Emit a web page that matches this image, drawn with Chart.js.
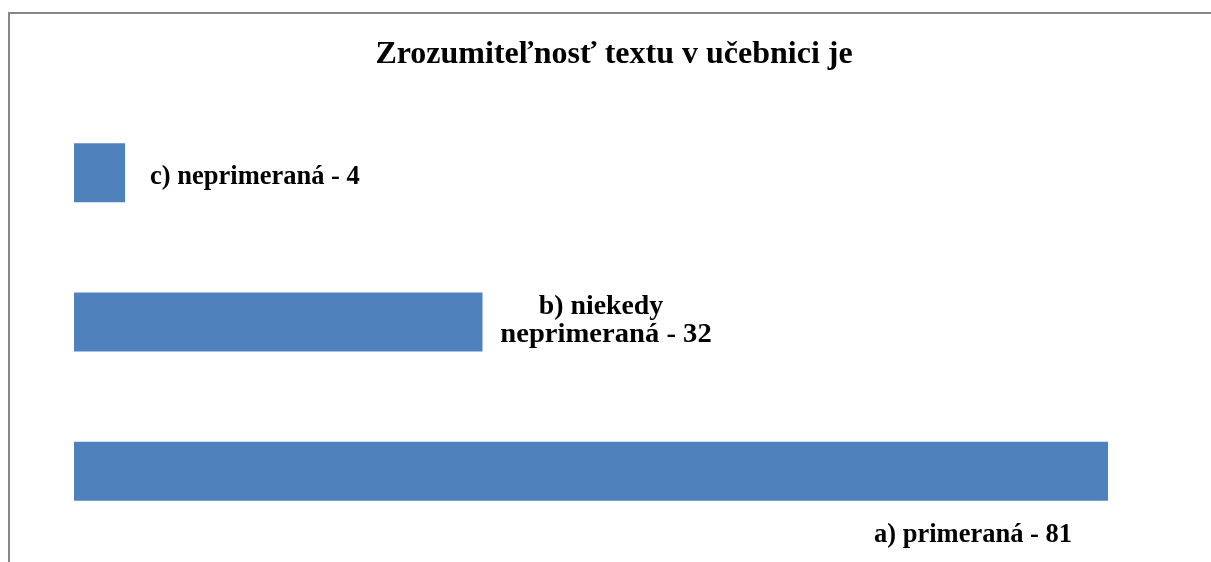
<!DOCTYPE html>
<html>
<head>
<meta charset="utf-8">
<script src="https://cdn.jsdelivr.net/npm/chart.js@4"></script>
<style>
html,body{margin:0;padding:0;background:#fff;}
#wrap{position:relative;width:1211px;height:562px;}
</style>
</head>
<body>
<div id="wrap"><canvas id="c" width="1211" height="562"></canvas></div>
<script>
const chartTitle = "Zrozumiteľnosť textu v učebnici je";
const categories = ["c) neprimeraná", "b) niekedy neprimeraná", "a) primeraná"];
const values = [4, 32, 81];
const labelLines = [["c) neprimeraná - 4"], ["b) niekedy", "neprimeraná - 32"], ["a) primeraná - 81"]];

const FONT = "'Liberation Serif', 'Times New Roman', serif";

const framePlugin = {
  id: 'frame',
  beforeDraw(chart) {
    const ctx = chart.ctx;
    ctx.save();
    ctx.strokeStyle = '#878787';
    ctx.lineWidth = 2;
    ctx.beginPath();
    ctx.moveTo(9, 562);
    ctx.lineTo(9, 13);
    ctx.lineTo(1211, 13);
    ctx.stroke();
    ctx.fillStyle = '#000';
    ctx.font = "bold 32px " + FONT;
    ctx.textAlign = 'center';
    ctx.textBaseline = 'alphabetic';
    ctx.fillText(chartTitle, 614, 63);
    ctx.restore();
  }
};

function stretchedText(ctx, text, cx, y, sx) {
  ctx.save();
  ctx.translate(cx, y);
  ctx.scale(sx, 1);
  ctx.fillText(text, 0, 0);
  ctx.restore();
}

const labelPlugin = {
  id: 'barLabels',
  afterDatasetsDraw(chart) {
    const ctx = chart.ctx;
    const meta = chart.getDatasetMeta(0);
    ctx.save();
    ctx.fillStyle = '#000';
    ctx.textBaseline = 'alphabetic';
    meta.data.forEach((bar, i) => {
      const lines = labelLines[i];
      if (i === 0) {
        ctx.font = "bold 26.5px " + FONT;
        ctx.textAlign = 'left';
        ctx.fillText(lines[0], bar.x + 25, bar.y + 11);
      } else if (i === 1) {
        ctx.font = "bold 26.5px " + FONT;
        ctx.textAlign = 'center';
        stretchedText(ctx, lines[0], bar.x + 118.5, bar.y - 8, 1.05);
        stretchedText(ctx, lines[1], bar.x + 123.5, bar.y + 20, 1.08);
      } else {
        ctx.font = "bold 26.5px " + FONT;
        ctx.textAlign = 'center';
        ctx.fillText(lines[0], bar.x - 135, bar.y + 70.5);
      }
    });
    ctx.restore();
  }
};

new Chart(document.getElementById('c'), {
  type: 'bar',
  data: {
    labels: categories,
    datasets: [{
      data: values,
      backgroundColor: '#4F81BD',
      borderWidth: 0,
      categoryPercentage: 0.395,
      barPercentage: 1
    }]
  },
  options: {
    indexAxis: 'y',
    responsive: false,
    animation: false,
    layout: { padding: { left: 74, right: 103, top: 98, bottom: 16 } },
    scales: {
      x: { display: false, min: 0, max: 81 },
      y: { display: false }
    },
    plugins: {
      legend: { display: false },
      tooltip: { enabled: false },
      title: { display: false }
    }
  },
  plugins: [framePlugin, labelPlugin]
});
</script>
</body>
</html>
